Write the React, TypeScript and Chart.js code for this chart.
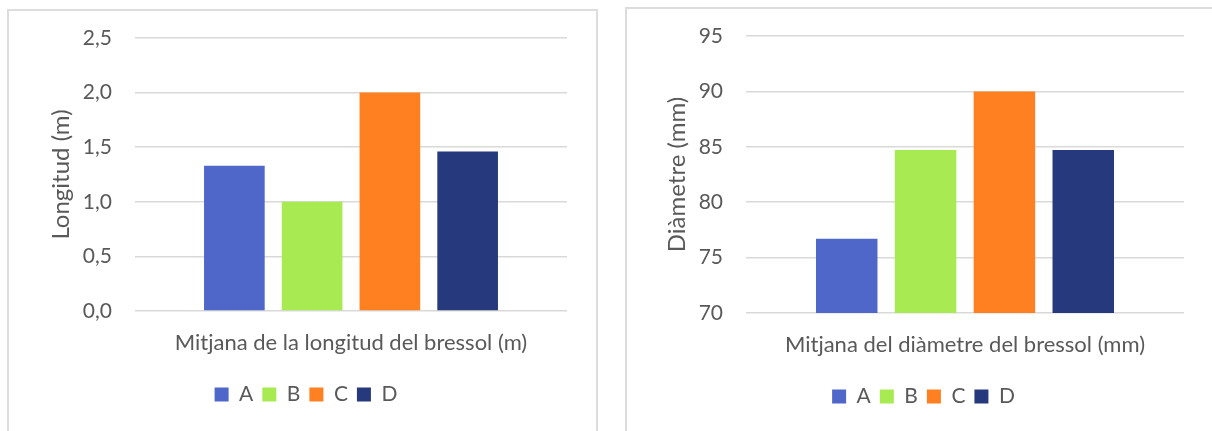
import { useEffect, useRef } from "react";
import { Chart, registerables } from "chart.js";

Chart.register(...registerables);

// Series shared by both panels
const groups = ["A", "B", "C", "D"];
const groupColors = ["#4E67C8", "#A7EA52", "#FF8021", "#27397D"];

// Panel 1: mean cradle length
const lengthCategory = ["Mitjana de la longitud del bressol (m)"];
const lengthValues = [1.33, 1.0, 2.0, 1.46];
const lengthTickLabels = ["0,0", "0,5", "1,0", "1,5", "2,0", "2,5"];

// Panel 2: mean cradle diameter
const diameterCategory = ["Mitjana del diàmetre del bressol (mm)"];
const diameterValues = [76.7, 84.7, 90.0, 84.7];
const diameterTickLabels = ["70", "75", "80", "85", "90", "95"];

const TEXT = "#595959";
const GRID = "#D9D9D9";
const FONT = "Lato";

type Panel = {
  category: string[];
  values: number[];
  tickLabels: string[];
  yTitle: string;
  min: number;
  max: number;
  step: number;
  pad: { left: number; right: number; top: number; bottom: number };
  yWidth: number;
  xHeight: number;
  titleOffset: number;
};

function buildConfig(p: Panel): any {
  return {
    type: "bar",
    data: {
      labels: p.category,
      datasets: groups.map((g, i) => ({
        label: g,
        data: [p.values[i]],
        backgroundColor: groupColors[i],
        borderWidth: 0,
        categoryPercentage: 0.72,
        barPercentage: 0.78,
      })),
    },
    options: {
      responsive: false,
      animation: false,
      layout: { padding: p.pad },
      plugins: {
        tooltip: { enabled: false },
        legend: {
          position: "bottom",
          labels: {
            boxWidth: 14,
            boxHeight: 14,
            padding: 9,
            color: TEXT,
            font: { family: FONT, size: 21 },
          },
        },
      },
      scales: {
        x: {
          grid: { display: false, drawTicks: false },
          border: { display: false },
          ticks: {
            color: TEXT,
            padding: 19,
            font: { family: FONT, size: 22 },
          },
          afterFit: (s: any) => {
            s.height = p.xHeight;
          },
        },
        y: {
          min: p.min,
          max: p.max,
          grid: { color: GRID, lineWidth: 1.5, drawTicks: false },
          border: { display: false },
          ticks: {
            stepSize: p.step,
            padding: 23,
            color: TEXT,
            font: { family: FONT, size: 21 },
            callback: (_v: any, i: number) => p.tickLabels[i],
          },
          title: {
            display: true,
            text: p.yTitle,
            color: TEXT,
            font: { family: FONT, size: 24 },
            padding: { top: p.titleOffset, bottom: 0 },
          },
          afterFit: (s: any) => {
            s.width = p.yWidth;
          },
        },
      },
    },
  };
}

function BarPanel({ panel, left }: { panel: Panel; left: number }) {
  const ref = useRef<HTMLCanvasElement | null>(null);
  useEffect(() => {
    if (!ref.current) return;
    const chart = new Chart(ref.current, buildConfig(panel));
    return () => chart.destroy();
  }, [panel]);
  return (
    <canvas
      ref={ref}
      width={606}
      height={431}
      style={{ position: "absolute", left, top: 0, width: 606, height: 431 }}
    />
  );
}

const lengthPanel: Panel = {
  category: lengthCategory,
  values: lengthValues,
  tickLabels: lengthTickLabels,
  yTitle: "Longitud (m)",
  min: 0,
  max: 2.5,
  step: 0.5,
  pad: { left: 45, right: 39, top: 38, bottom: 16 },
  yWidth: 90,
  xHeight: 64,
  titleOffset: 2,
};

const diameterPanel: Panel = {
  category: diameterCategory,
  values: diameterValues,
  tickLabels: diameterTickLabels,
  yTitle: "Diàmetre (mm)",
  min: 70,
  max: 95,
  step: 5,
  pad: { left: 57, right: 28, top: 36, bottom: 14 },
  yWidth: 83,
  xHeight: 64,
  titleOffset: 0,
};

export default function App() {
  return (
    <div
      style={{
        position: "fixed",
        left: 0,
        top: 0,
        width: 1212,
        height: 431,
        overflow: "hidden",
        background: "#fff",
      }}
    >
      <div
        style={{
          position: "absolute",
          left: 7,
          top: 9,
          width: 587,
          height: 460,
          border: "2px solid #DDDDDD",
        }}
      />
      <div
        style={{
          position: "absolute",
          left: 625,
          top: 7,
          width: 620,
          height: 460,
          border: "2px solid #DDDDDD",
        }}
      />
      <BarPanel panel={lengthPanel} left={0} />
      <BarPanel panel={diameterPanel} left={606} />
    </div>
  );
}
